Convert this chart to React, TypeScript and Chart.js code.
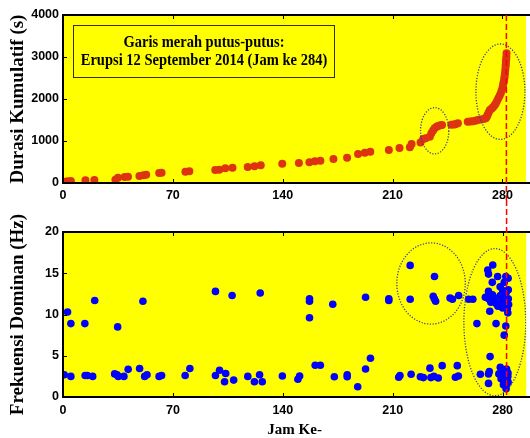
import React, { useEffect, useRef } from "react";
import { Chart, registerables } from "chart.js";
Chart.register(...registerables);

// ---------- data ----------
const xTicks = [0, 70, 140, 210, 280];
const durationTicks = [0, 1000, 2000, 3000, 4000];
const freqTicks = [0, 5, 10, 15, 20];
const xMax = 295;
const eruptionHour = 282.5;

const durationHours = [
  1.5, 3, 5, 14.3, 20, 33.4, 35, 39.3, 41.4, 48.7,
  51.3, 53, 61.3, 62.8, 78, 80.5, 97, 99.5, 103.4, 108,
  117.7, 122, 126, 139.7, 150.3, 157, 160.5, 164, 172.3, 181,
  188, 192.3, 195.8, 207.6, 214.4, 221, 222.1, 227.8, 229.5, 231,
  233.7, 234.7, 235.8, 236.8, 238, 239, 240.5, 241.5, 247.4, 249,
  250, 251.6, 257.9, 259.5, 261, 262.8, 264.2, 266, 268, 269.4,
  270, 270.5, 271.2, 272, 273, 274, 275, 275.8, 276.6, 277.4,
  278.2, 278.9, 279.5, 280, 280.3, 280.6, 280.9, 281.2, 281.4, 281.6,
  281.8, 282, 282.1, 282.2, 282.4, 282.5, 282.6,
];
const cumulativeDuration = [
  31, 40, 50, 64, 71, 75, 126, 143, 150, 167,
  183, 198, 238, 245, 266, 278, 309, 317, 352, 362,
  378, 401, 424, 459, 476, 493, 516, 531, 571, 602,
  690, 721, 745, 786, 833, 850, 929, 965, 1050, 1064,
  1102, 1183, 1250, 1302, 1340, 1357, 1375, 1380, 1385, 1392,
  1400, 1421, 1460, 1465, 1469, 1485, 1500, 1510, 1525, 1540,
  1580, 1619, 1680, 1738, 1770, 1802, 1850, 1898, 1960, 2017,
  2080, 2136, 2200, 2255, 2315, 2374, 2430, 2493, 2550, 2612,
  2690, 2769, 2830, 2888, 2950, 3007, 3088,
];

const freqHours = [
  0.8, 2.9, 5, 5, 13.9, 14.1, 15.5, 18.9, 20.2, 32.9,
  34.4, 34.8, 35.2, 38.8, 41.5, 48.8, 50.9, 52, 53.5, 61.2,
  62.8, 77.8, 80.8, 97.1, 97.1, 99.7, 102.9, 103.6, 107.7, 108.7,
  117.7, 121.9, 125.2, 125.6, 126.9, 139.7, 149.6, 150.7, 157, 157,
  157, 160.6, 163.9, 171.8, 172.8, 181, 181, 187.7, 192.7, 192.7,
  195.8, 207.5, 207.5, 213.8, 214.6, 221.1, 221.1, 221.7, 227.6, 229.5,
  233.7, 234.3, 236.2, 236.6, 235.8, 236.5, 237.3, 239, 241.5, 246.5,
  248, 249.9, 251.1, 251.8, 252, 258.3, 261, 263.6, 265.8, 269,
  270.5, 271, 273.7, 271, 271, 271.5, 271.8, 272, 271, 271,
  271.5, 273.4, 276.8, 275.8, 273.5, 274.5, 276, 277, 275, 277.6,
  278.5, 280.8, 279, 281, 282, 280, 281, 281.5, 282, 281,
  282.3, 282.8, 283, 283.3, 283.5, 282.5, 281.5, 280.5, 282, 282.8,
  283.3, 283.5, 282.2, 279.5, 278.5, 280, 283.6, 283.6, 283.4, 282.5,
  280.5, 279.5, 278.4, 272.5, 283.8,
];
const dominantFreq = [
  2.7, 10.3, 8.9, 2.5, 8.9, 2.6, 2.6, 2.5, 11.7, 2.8,
  2.7, 8.5, 2.5, 2.5, 3.35, 3.45, 11.6, 2.5, 2.7, 2.5,
  2.6, 2.6, 3.45, 12.8, 2.6, 3.25, 1.85, 2.85, 12.3, 2.05,
  2.5, 1.85, 2.7, 12.6, 1.85, 2.55, 2.15, 2.55, 11.9, 11.6,
  9.6, 3.85, 3.85, 11.25, 2.45, 2.7, 2.45, 1.25, 12.1, 3.4,
  4.7, 11.9, 11.7, 2.4, 2.6, 15.95, 11.85, 2.75, 2.45, 2.35,
  3.5, 2.35, 2.5, 14.6, 12.2, 11.9, 11.6, 2.3, 3.8, 12.0,
  11.85, 2.4, 3.8, 2.55, 12.3, 11.85, 11.85, 8.9, 2.75, 12.1,
  15.4, 14.9, 16.0, 12.8, 11.9, 12.4, 10.4, 4.9, 2.8, 1.65,
  3.1, 13.9, 14.6, 8.9, 12.4, 11.8, 11.3, 11.0, 12.0, 2.8,
  3.6, 2.4, 2.2, 13.9, 14.6, 12.9, 11.5, 12.5, 8.6, 7.5,
  12.7, 11.7, 10.7, 10.2, 14.4, 1.4, 1.6, 1.5, 2.4, 3.0,
  2.5, 1.8, 1.0, 11.7, 12.3, 10.8, 13.0, 11.9, 2.9, 3.4,
  3.1, 2.6, 13.35, 11.5, 11.2,
];

// highlighted regions: [centerHour, centerValue, radiusHours, radiusValue]
const durationEllipses = [
  [236.8, 1243, 9.0, 552],
  [278.7, 2174, 15.6, 1136],
];
const freqEllipses = [
  [234.4, 13.76, 21.8, 4.92],
  [275.0, 9.07, 19.7, 8.92],
];

const noteLines = [
  "Garis merah putus-putus:",
  "Erupsi 12 September 2014 (Jam ke 284)",
];

const yDurationTitle = "Durasi Kumulatif (s)";
const yFreqTitle = "Frekuensi Dominan (Hz)";
const xTitle = "Jam Ke-";

// ---------- styling ----------
const YELLOW = "#ffff00";
const RED = "#dd3311";
const BLUE = "#0000ff";
const ELLIPSE = "#3a3a9a";
const SERIF = "'Liberation Serif', 'Times New Roman', serif";
const SANS = "'Liberation Sans', Arial, sans-serif";

function decorPlugin(cfg: {
  ellipses: number[][];
  lineFromCanvasTop: boolean;
  lineToCanvasBottom: boolean;
  note?: string[];
  yTickValues: number[];
}) {
  return {
    id: "decor",
    beforeDraw(chart: any) {
      const { ctx, chartArea: a } = chart;
      ctx.save();
      ctx.fillStyle = YELLOW;
      ctx.fillRect(a.left, a.top, a.right - a.left, a.bottom - a.top);
      ctx.restore();
    },
    afterDatasetsDraw(chart: any) {
      const { ctx, chartArea: a } = chart;
      const xs = chart.scales.x;
      const ys = chart.scales.y;
      ctx.save();
      ctx.beginPath();
      ctx.rect(a.left, a.top, a.right - a.left, a.bottom - a.top);
      ctx.clip();
      // ellipses
      ctx.strokeStyle = ELLIPSE;
      ctx.lineWidth = 1.3;
      ctx.setLineDash([1.2, 1.6]);
      for (const [cx, cy, rx, ry] of cfg.ellipses) {
        const px = xs.getPixelForValue(cx);
        const py = ys.getPixelForValue(cy);
        const prx = Math.abs(xs.getPixelForValue(cx + rx) - px);
        const pry = Math.abs(ys.getPixelForValue(cy + ry) - py);
        ctx.beginPath();
        ctx.ellipse(px, py, prx, pry, 0, 0, Math.PI * 2);
        ctx.stroke();
      }
      ctx.restore();

      // frame
      ctx.save();
      ctx.strokeStyle = "#000";
      ctx.lineWidth = 2;
      ctx.setLineDash([]);
      ctx.beginPath();
      ctx.moveTo(chart.width + 2, a.top);
      ctx.lineTo(a.left, a.top);
      ctx.lineTo(a.left, a.bottom);
      ctx.lineTo(chart.width + 2, a.bottom);
      ctx.stroke();
      // inward ticks
      ctx.lineWidth = 1;
      ctx.beginPath();
      for (const v of xTicks) {
        const px = Math.round(xs.getPixelForValue(v)) + 0.5;
        ctx.moveTo(px, a.bottom);
        ctx.lineTo(px, a.bottom - 4);
        ctx.moveTo(px, a.top);
        ctx.lineTo(px, a.top + 4);
      }
      for (const v of cfg.yTickValues) {
        const py = Math.round(ys.getPixelForValue(v)) + 0.5;
        ctx.moveTo(a.left, py);
        ctx.lineTo(a.left + 4, py);
      }
      ctx.stroke();
      ctx.restore();

      // eruption dashed line
      ctx.save();
      const ex = xs.getPixelForValue(eruptionHour);
      ctx.strokeStyle = "#ff0000";
      ctx.lineWidth = 1.5;
      ctx.setLineDash([6, 3]);
      ctx.beginPath();
      ctx.moveTo(ex, cfg.lineFromCanvasTop ? 0 : a.top);
      ctx.lineTo(ex, cfg.lineToCanvasBottom ? chart.height : a.bottom);
      ctx.stroke();
      ctx.restore();

      // note box
      if (cfg.note) {
        ctx.save();
        const bx = a.left + 10.5;
        const by = a.top + 10.5;
        const bw = 261;
        const bh = 52;
        ctx.strokeStyle = "#333300";
        ctx.lineWidth = 1;
        ctx.strokeRect(bx, by, bw, bh);
        ctx.fillStyle = "#000";
        ctx.font = `bold 14.5px ${SERIF}`;
        ctx.textAlign = "center";
        ctx.textBaseline = "middle";
        const offsets = [16.5, 35];
        cfg.note.forEach((line, i) => {
          ctx.save();
          ctx.translate(bx + bw / 2, by + offsets[i]);
          ctx.scale(1, 1.2);
          ctx.fillText(line, 0, 0);
          ctx.restore();
        });
        ctx.restore();
      }
    },
  };
}

function makeConfig(opts: {
  hours: number[];
  values: number[];
  color: string;
  radius: number;
  yMax: number;
  yTickValues: number[];
  yTitle: string;
  padTop: number;
  xHeight: number;
  xTickPadding: number;
  showXTitle: boolean;
  plugin: any;
}) {
  return {
    type: "scatter" as const,
    data: {
      datasets: [
        {
          data: opts.hours.map((h, i) => ({ x: h, y: opts.values[i] })),
          backgroundColor: opts.color,
          borderColor: opts.color,
          borderWidth: 0,
          pointRadius: opts.radius,
          pointHoverRadius: opts.radius,
        },
      ],
    },
    options: {
      responsive: false,
      animation: false,
      events: [],
      layout: { padding: { top: opts.padTop, left: 0, right: 0, bottom: 0 } },
      plugins: { legend: { display: false }, tooltip: { enabled: false } },
      scales: {
        x: {
          type: "linear",
          min: 0,
          max: xMax,
          grid: { display: false, drawTicks: false },
          border: { display: false },
          afterBuildTicks: (s: any) => {
            s.ticks = xTicks.map((v) => ({ value: v }));
          },
          afterFit: (s: any) => {
            s.height = opts.xHeight;
            s.paddingLeft = 0;
            s.paddingRight = 0;
          },
          ticks: {
            padding: opts.xTickPadding,
            color: "#000",
            maxRotation: 0,
            autoSkip: false,
            callback: (v: any) => String(v),
            font: { family: SANS, size: 12.5, weight: "bold" },
          },
          title: {
            display: opts.showXTitle,
            text: xTitle,
            color: "#000",
            padding: { top: 0, bottom: 0 },
            font: { family: SERIF, size: 15, weight: "bold", lineHeight: 1 },
          },
        },
        y: {
          type: "linear",
          min: 0,
          max: opts.yMax,
          grid: { display: false, drawTicks: false },
          border: { display: false },
          afterBuildTicks: (s: any) => {
            s.ticks = opts.yTickValues.map((v) => ({ value: v }));
          },
          afterFit: (s: any) => {
            s.width = 63;
            s.paddingTop = 0;
            s.paddingBottom = 0;
          },
          ticks: {
            padding: 4,
            color: "#000",
            autoSkip: false,
            callback: (v: any) => String(v),
            font: { family: SANS, size: 12.5, weight: "bold" },
          },
          title: {
            display: true,
            text: opts.yTitle,
            color: "#000",
            padding: { top: 9, bottom: 0 },
            font: { family: SERIF, size: 19, weight: "bold", lineHeight: 1 },
          },
        },
      },
    },
    plugins: [opts.plugin],
  };
}

export default function App() {
  const topRef = useRef<HTMLCanvasElement>(null);
  const botRef = useRef<HTMLCanvasElement>(null);

  useEffect(() => {
    const top = new Chart(
      topRef.current as HTMLCanvasElement,
      makeConfig({
        hours: durationHours,
        values: cumulativeDuration,
        color: RED,
        radius: 4,
        yMax: 4000,
        yTickValues: durationTicks,
        yTitle: yDurationTitle,
        padTop: 15,
        xHeight: 17,
        xTickPadding: 5,
        showXTitle: false,
        plugin: decorPlugin({
          ellipses: durationEllipses,
          lineFromCanvasTop: false,
          lineToCanvasBottom: true,
          note: noteLines,
          yTickValues: durationTicks,
        }),
      }) as any
    );
    const bot = new Chart(
      botRef.current as HTMLCanvasElement,
      makeConfig({
        hours: freqHours,
        values: dominantFreq,
        color: BLUE,
        radius: 3.8,
        yMax: 20,
        yTickValues: freqTicks,
        yTitle: yFreqTitle,
        padTop: 32,
        xHeight: 41,
        xTickPadding: 6,
        showXTitle: true,
        plugin: decorPlugin({
          ellipses: freqEllipses,
          lineFromCanvasTop: true,
          lineToCanvasBottom: false,
          yTickValues: freqTicks,
        }),
      }) as any
    );
    return () => {
      top.destroy();
      bot.destroy();
    };
  }, []);

  return (
    <div style={{ position: "fixed", left: 0, top: 0, width: 530, height: 438, background: "#fff", overflow: "hidden" }}>
      <canvas ref={topRef} width={530} height={200} style={{ position: "absolute", left: 0, top: 0, width: 530, height: 200 }} />
      <canvas ref={botRef} width={530} height={238} style={{ position: "absolute", left: 0, top: 200, width: 530, height: 238 }} />
    </div>
  );
}
